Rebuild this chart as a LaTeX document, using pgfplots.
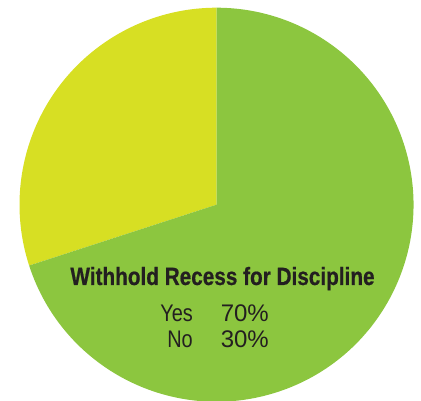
\documentclass[border=0pt]{standalone}
\usepackage{pgfplots}
\pgfplotsset{compat=1.18}
\usepackage{pgfplotstable}
\usepackage{fontspec}
\setmainfont{Liberation Sans}
\newfontfamily\condfont[FakeStretch=0.83, BoldFeatures={FakeStretch=0.83, FakeBold=0.6}]{Liberation Sans}
\definecolor{piegreen}{HTML}{8CC63F}
\definecolor{pieyellow}{HTML}{D7DF23}
\definecolor{txt}{HTML}{231F20}

\pgfplotstableread{
label value
No 30
Yes 70
}\piedata
\pgfplotstablegetelem{0}{value}\of\piedata \let\vno\pgfplotsretval
\pgfplotstablegetelem{1}{value}\of\piedata \let\vyes\pgfplotsretval
\pgfmathsetmacro\aNo{90+3.6*\vno}
\pgfmathsetmacro\aYes{\aNo+3.6*\vyes}

\begin{document}
\begin{tikzpicture}
\begin{axis}[
  x=1pt, y=1pt,
  xmin=0, xmax=421, ymin=0, ymax=400,
  hide axis, clip=false,
]
\fill[pieyellow] (axis cs:216.5,195.3) -- ++(90:197pt) arc[start angle=90, end angle=\aNo, radius=197pt] -- cycle;
\fill[piegreen] (axis cs:216.5,195.3) -- ++(\aNo:197pt) arc[start angle=\aNo, end angle=\aYes, radius=197pt] -- cycle;
\node[anchor=base, inner sep=0pt, text=txt, font=\condfont\bfseries\fontsize{25}{28}\selectfont] at (axis cs:222.5,115) {Withhold Recess for Discipline};
\node[anchor=base east, inner sep=0pt, text=txt, font=\condfont\fontsize{24}{28}\selectfont] at (axis cs:193,79) {Yes};
\node[anchor=base east, inner sep=0pt, text=txt, font=\fontsize{24}{28}\selectfont] at (axis cs:269,79) {\vyes\%};
\node[anchor=base east, inner sep=0pt, text=txt, font=\condfont\fontsize{24}{28}\selectfont] at (axis cs:193,53) {No};
\node[anchor=base east, inner sep=0pt, text=txt, font=\fontsize{24}{28}\selectfont] at (axis cs:269,53) {\vno\%};
\coordinate (ll) at (axis cs:0,0);
\coordinate (ur) at (axis cs:421,400);
\end{axis}
\pgfresetboundingbox
\useasboundingbox (ll) rectangle (ur);
\end{tikzpicture}
\end{document}
